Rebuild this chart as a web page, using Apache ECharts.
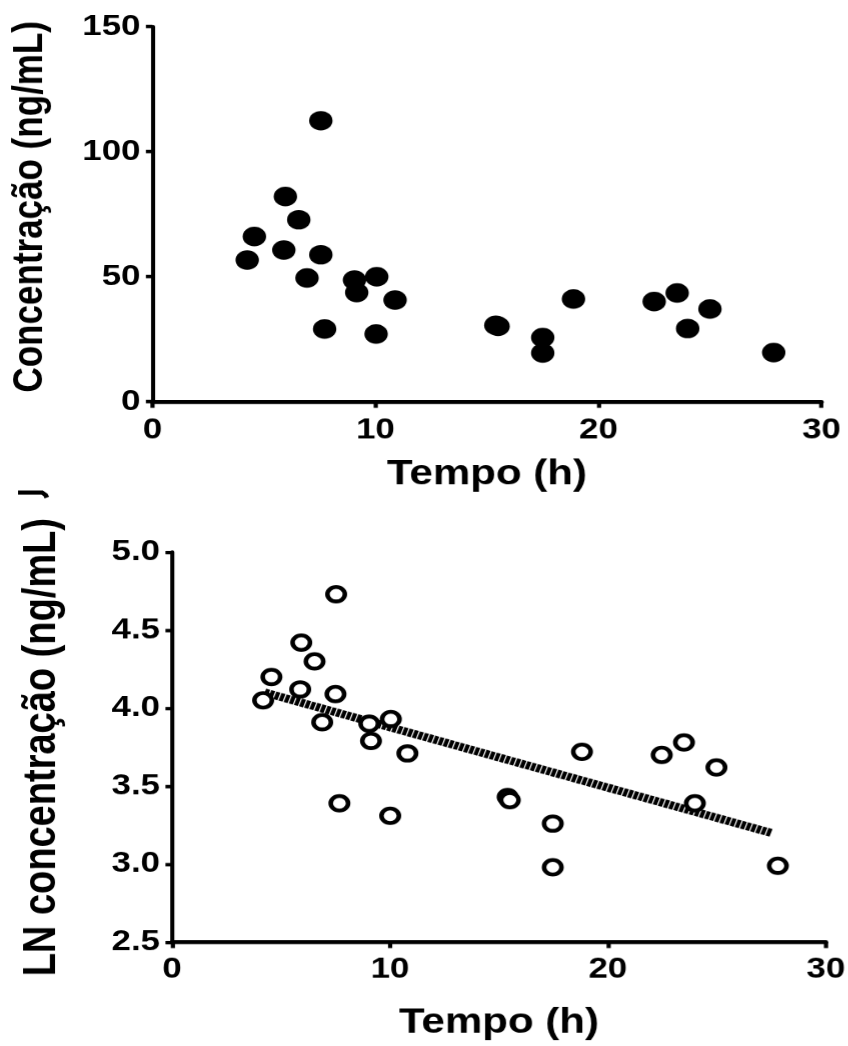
<!DOCTYPE html>
<html>
<head>
<meta charset="utf-8">
<script src="https://cdn.jsdelivr.net/npm/echarts@6/dist/echarts.min.js"></script>
<style>
  html, body { margin: 0; padding: 0; background: #fff; overflow: hidden; }
  #wrap { width: 848px; height: 1046px; overflow: hidden; }
  /* the original figure is stretched sideways, so draw narrow and stretch */
  #chart { width: 706.67px; height: 1046px; transform: scaleX(1.2); transform-origin: 0 0; }
</style>
</head>
<body>
<div id="wrap"><div id="chart"></div></div>
<script>
// top panel: concentration vs time
const tempo = [4.25, 4.57, 5.96, 5.89, 6.56, 7.55, 7.55, 6.93, 7.72, 9.06, 9.16, 10.06, 10.03, 10.88, 15.4, 15.5, 17.5, 17.5, 18.88, 22.5, 23.53, 25.0, 24.0, 27.86];
const conc = [56.7, 66.1, 82.1, 60.7, 72.8, 112.4, 58.8, 49.5, 29.1, 48.7, 43.7, 50.0, 27.1, 40.7, 30.6, 30.2, 25.7, 19.5, 41.1, 40.1, 43.5, 37.1, 29.3, 19.7];

// bottom panel: LN concentration vs time, plus fitted line
const tempoLn = [4.18, 4.56, 5.93, 5.88, 6.54, 7.53, 7.50, 6.89, 7.68, 9.05, 9.13, 10.04, 10.01, 10.80, 15.40, 15.50, 17.47, 17.47, 18.81, 22.47, 23.49, 24.98, 23.99, 27.80];
const lnConc = [4.05, 4.20, 4.42, 4.12, 4.30, 4.73, 4.09, 3.91, 3.39, 3.90, 3.79, 3.93, 3.31, 3.71, 3.43, 3.41, 3.26, 2.98, 3.72, 3.70, 3.78, 3.62, 3.39, 2.99];
const fitTempo = [4.25, 27.5];
const fitLn = [4.10, 3.20];

const xTicks = [0, 10, 20, 30];
const yTicksTop = [0, 50, 100, 150];
const yTicksBottom = [2.5, 3.0, 3.5, 4.0, 4.5, 5.0];

const font = 'Liberation Sans, Arial, sans-serif';

function pairs(xs, ys) {
  return xs.map((x, i) => [x, ys[i]]);
}

function xAxisOf(gridIndex, nameGap, labelMargin) {
  return {
    type: 'value',
    gridIndex: gridIndex,
    min: xTicks[0],
    max: xTicks[xTicks.length - 1],
    interval: xTicks[1] - xTicks[0],
    name: 'Tempo (h)',
    nameLocation: 'middle',
    nameGap: nameGap,
    nameTextStyle: { fontFamily: font, fontWeight: 'bold', fontSize: 35, color: '#000' },
    splitLine: { show: false },
    axisLine: { onZero: false, lineStyle: { color: '#000', width: 4 } },
    axisTick: { length: 6, lineStyle: { color: '#000', width: 3.5 } },
    axisLabel: { margin: labelMargin, fontFamily: font, fontWeight: 'bold', fontSize: 29, color: '#000' }
  };
}

function yAxisOf(gridIndex, ticks, name, nameSize, nameGap, shift, decimals) {
  return {
    type: 'value',
    gridIndex: gridIndex,
    min: ticks[0],
    max: ticks[ticks.length - 1],
    interval: ticks[1] - ticks[0],
    name: name,
    nameLocation: 'middle',
    nameGap: nameGap,
    nameTextStyle: { fontFamily: font, fontWeight: 'bold', fontSize: nameSize, color: '#000', padding: [0, 0, 0, shift] },
    splitLine: { show: false },
    axisLine: { onZero: false, lineStyle: { color: '#000', width: 3.4 } },
    axisTick: { length: 5.5, lineStyle: { color: '#000', width: 3.4 } },
    axisLabel: {
      margin: 10, fontFamily: font, fontWeight: 'bold', fontSize: 29, color: '#000',
      formatter: v => v.toFixed(decimals)
    }
  };
}

const chart = echarts.init(document.getElementById('chart'), null, { renderer: 'canvas', devicePixelRatio: 1.2 });

chart.setOption({
  animation: false,
  backgroundColor: '#fff',
  grid: [
    { left: 125, top: 26.7, width: 559.2, height: 375 },
    { left: 143.3, top: 552, width: 546.7, height: 390 }
  ],
  xAxis: [xAxisOf(0, 55.5, 14), xAxisOf(1, 63.5, 13)],
  yAxis: [
    yAxisOf(0, yTicksTop, 'Concentração (ng/mL)', 35, 84, 15, 0),
    yAxisOf(1, yTicksBottom, 'LN concentração (ng/mL)', 38, 89, 0, 1)
  ],
  graphic: [{
    type: 'polyline',
    shape: { points: [[15, 492.5], [35, 492.5], [38, 495], [39, 497.5]] },
    style: { stroke: '#000', lineWidth: 4, fill: null }
  }],
  series: [
    {
      type: 'scatter',
      xAxisIndex: 0, yAxisIndex: 0,
      data: pairs(tempo, conc),
      symbol: 'circle',
      symbolSize: 19.5,
      itemStyle: { color: '#000', opacity: 1 },
      z: 3
    },
    {
      type: 'line',
      xAxisIndex: 1, yAxisIndex: 1,
      data: pairs(fitTempo, fitLn),
      symbol: 'none',
      lineStyle: { color: '#000', width: 8, type: [3.5, 1], cap: 'butt', opacity: 1 },
      z: 2
    },
    {
      type: 'scatter',
      xAxisIndex: 1, yAxisIndex: 1,
      data: pairs(tempoLn, lnConc),
      symbol: 'circle',
      symbolSize: 14.5,
      itemStyle: { color: '#fff', borderColor: '#000', borderWidth: 3.8, opacity: 1 },
      z: 3
    }
  ]
});
</script>
</body>
</html>
